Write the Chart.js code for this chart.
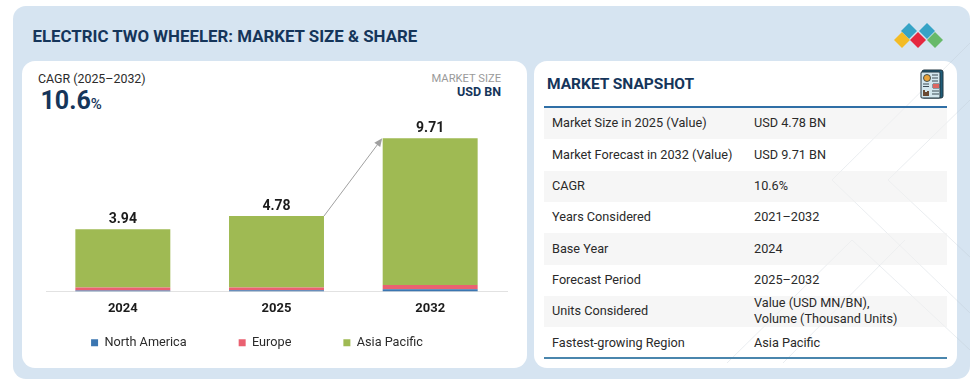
<!DOCTYPE html>
<html>
<head>
<meta charset="utf-8">
<title>Electric Two Wheeler: Market Size & Share</title>
<script src="https://cdn.jsdelivr.net/npm/chart.js@4"></script>
<style>
	html, body { margin: 0; padding: 0; background: #fff; width: 973px; height: 381px; overflow: hidden; font-family: Roboto, sans-serif; }
	.abs { position: absolute; white-space: nowrap; }
	#outer { left: 13px; top: 6px; width: 957px; height: 373px; background: #d6e4f1; border-radius: 13px; }
	#leftPanel { left: 22px; top: 61px; width: 505px; height: 307px; background: #fff; border-radius: 13px; }
	#rightPanel { left: 534px; top: 61px; width: 423px; height: 307px; background: #fff; border-radius: 13px; }
	#title { left: 32.5px; top: 24.5px; font-size: 16.85px; line-height: 22px; font-weight: 700; color: #15355a; }
	#cagrLabel { left: 38px; top: 71px; font-size: 12.4px; line-height: 16px; color: #2b2b2b; }
	#cagrValue { left: 40.5px; top: 87px; font-size: 25px; line-height: 28px; font-weight: 700; color: #15355a; }
	#cagrValue span { font-size: 15px; font-weight: 500; }
	#sizeLabel { right: 472px; top: 71px; font-size: 11.2px; line-height: 15px; color: #9a9a9a; }
	#sizeUnit { right: 472px; top: 84px; font-size: 12.5px; line-height: 15px; font-weight: 700; color: #15355a; }
	#snapshotTitle { left: 547px; top: 73px; font-size: 15.5px; line-height: 22px; font-weight: 700; color: #15355a; }
	#snapshot { left: 544px; top: 106px; width: 403px; height: 248.5px; border-top: 2px solid #2f6fa6; border-bottom: 2px solid #4a86ad; }
	.row { position: relative; height: 31.35px; font-size: 12.7px; color: #2a2a2a; }
	.row:nth-child(odd) { background: rgba(240, 240, 240, 0.6); }
	.row div { position: absolute; top: 49%; transform: translateY(-50%); line-height: 16px; white-space: pre; }
	.row .name { left: 8px; }
	.row .value { left: 210px; }
	#chartCanvas { position: absolute; left: 0; top: 61px; }
	svg { position: absolute; }
</style>
</head>
<body>
<div class="abs" id="outer"></div>
<div class="abs" id="leftPanel"></div>
<div class="abs" id="rightPanel"></div>
<svg style="left:0;top:0" width="973" height="381">
	<path d="M970 43 L832 180 L970 313 M970 100 L888 180 L970 257 M727 363 L852 240 L970 350 M783 363 L905 240" fill="none" stroke="#b8c4ce" stroke-width="1" opacity="0.3"/>
</svg>
<div class="abs" id="title">ELECTRIC TWO WHEELER: MARKET SIZE &amp; SHARE</div>
<div class="abs" id="cagrLabel">CAGR (2025–2032)</div>
<div class="abs" id="cagrValue">10.6<span>%</span></div>
<div class="abs" id="sizeLabel">MARKET SIZE</div>
<div class="abs" id="sizeUnit">USD BN</div>
<div class="abs" id="snapshotTitle">MARKET SNAPSHOT</div>
<div class="abs" id="snapshot"></div>

<!-- logo -->
<svg style="left:893px;top:22px" width="52" height="27">
	<polygon points="16,1 24,9 16,17 8,9" fill="#36a3c6"/>
	<polygon points="34,1 42,9 34,17 26,9" fill="#36a3c6"/>
	<polygon points="9,10 17,18 9,26 1,18" fill="#f3bb25"/>
	<polygon points="25,10 33,18 25,26 17,18" fill="#e5273f"/>
	<polygon points="42,10 50,18 42,26 34,18" fill="#67b96a"/>
</svg>

<!-- report icon -->
<svg style="left:920px;top:69px" width="24" height="31">
	<rect x="2" y="1" width="21" height="28" rx="2" fill="#1f5c78" stroke="#20343f"/>
	<rect x="1" y="3" width="19" height="26" rx="1" fill="#d3e7ee" stroke="#20343f"/>
	<circle cx="7" cy="9" r="3.5" fill="#e8a33a" stroke="#20343f" stroke-width="0.8"/>
	<path d="M12 6h6M12 9h6M12 12h6M3 15h6M3 17.5h6M13 15h6v4h-6zM12 22h7M12 25h7" stroke="#3c4c55" fill="none"/>
	<rect x="13" y="15" width="6" height="4" fill="#dd6660"/>
	<path d="M3 27v-6h2v2h2v-1h2v5z" fill="#6b4a32"/>
</svg>

<canvas id="chartCanvas" width="514" height="307"></canvas>

<script>
"use strict";

const categories = ["2024", "2025", "2032"];
const northAmerica = [0.06, 0.07, 0.14];
const europe = [0.18, 0.17, 0.27];
const asiaPacific = [3.7, 4.54, 9.3];
const totals = [3.94, 4.78, 9.71];
const totalLabels = ["3.94", "4.78", "9.71"];

const snapshotNames = ["Market Size in 2025 (Value)", "Market Forecast in 2032 (Value)", "CAGR", "Years Considered", "Base Year", "Forecast Period", "Units Considered", "Fastest-growing Region"];
const snapshotValues = ["USD 4.78 BN", "USD 9.71 BN", "10.6%", "2021–2032", "2024", "2025–2032", "Value (USD MN/BN),\nVolume (Thousand Units)", "Asia Pacific"];

// The snapshot table on the right
const snapshot = document.getElementById("snapshot");
snapshotNames.forEach(function (name, i) {
	const row = document.createElement("div");
	row.className = "row";
	const nameCell = document.createElement("div");
	nameCell.className = "name";
	nameCell.textContent = name;
	const valueCell = document.createElement("div");
	valueCell.className = "value";
	valueCell.textContent = snapshotValues[i];
	row.appendChild(nameCell);
	row.appendChild(valueCell);
	snapshot.appendChild(row);
});

// The legend padding is both the gap between items and the space above them,
// so the legend box is made smaller and moved to get the wide gaps without the tall box.
// It is also centred on the whole canvas, the reference has it left of the plot centre.
const compactLegend = {
	id: "compactLegend",
	beforeInit(chart) {
		const fit = chart.legend.fit;
		chart.legend.fit = function () {
			fit.call(this);
			this.height = 33;
		};
	},
	afterLayout(chart) {
		chart.legend.top = chart.chartArea.bottom - 7;
		chart.legend.left = 0;
		chart.legend.right = chart.width;
	},
};

// Draws the totals above the stacks and the growth arrow between the last two bars
const totalsAndArrow = {
	id: "totalsAndArrow",
	afterDatasetsDraw(chart) {
		const ctx = chart.ctx;
		const topBars = chart.getDatasetMeta(2).data;
		const yScale = chart.scales.y;

		ctx.save();
		ctx.font = "700 14px Roboto";
		ctx.fillStyle = "#1c1c1c";
		ctx.textAlign = "center";
		ctx.textBaseline = "bottom";
		topBars.forEach(function (bar, i) {
			ctx.fillText(totalLabels[i], bar.x, yScale.getPixelForValue(totals[i]) - 3);
		});

		// The arrow starts at the top right corner of 2025 and ends at the top left corner of 2032
		const from = topBars[1];
		const to = topBars[2];
		const startX = from.x + from.width / 2;
		const startY = yScale.getPixelForValue(totals[1]);
		const endX = to.x - to.width / 2 - 0.5;
		const endY = yScale.getPixelForValue(totals[2]);
		const angle = Math.atan2(endY - startY, endX - startX);

		ctx.strokeStyle = "#a0a0a0";
		ctx.fillStyle = "#a0a0a0";
		ctx.lineWidth = 1;
		ctx.beginPath();
		ctx.moveTo(startX, startY);
		ctx.lineTo(endX - 5 * Math.cos(angle), endY - 5 * Math.sin(angle));
		ctx.stroke();

		ctx.beginPath();
		ctx.moveTo(endX, endY);
		ctx.lineTo(endX - 9 * Math.cos(angle - 0.42), endY - 9 * Math.sin(angle - 0.42));
		ctx.lineTo(endX - 9 * Math.cos(angle + 0.42), endY - 9 * Math.sin(angle + 0.42));
		ctx.closePath();
		ctx.fill();
		ctx.restore();
	},
};

new Chart(document.getElementById("chartCanvas"), {
	type: "bar",
	data: {
		labels: categories,
		datasets: [
			{ label: "North America", data: northAmerica, backgroundColor: "#3b76b1" },
			{ label: "Europe", data: europe, backgroundColor: "#ea6171" },
			{ label: "Asia Pacific", data: asiaPacific, backgroundColor: "#9fba53" },
		],
	},
	options: {
		responsive: false,
		animation: false,
		barPercentage: 0.618,
		categoryPercentage: 1,
		layout: {
			padding: { left: 46, right: 7, top: 57, bottom: 16 },
		},
		scales: {
			x: {
				stacked: true,
				grid: { display: false },
				border: { color: "#e2e2e2", width: 1 },
				ticks: {
					color: "#1c1c1c",
					font: { family: "Roboto", size: 13, weight: "700" },
					padding: 2,
				},
			},
			y: {
				stacked: true,
				display: false,
				min: 0,
				max: 11,
			},
		},
		plugins: {
			tooltip: { enabled: false },
			legend: {
				position: "bottom",
				labels: {
					boxWidth: 7,
					boxHeight: 7,
					padding: 52,
					color: "#2b2b2b",
					font: { family: "Roboto", size: 12.7 },
				},
			},
		},
	},
	plugins: [compactLegend, totalsAndArrow],
});
</script>
</body>
</html>
